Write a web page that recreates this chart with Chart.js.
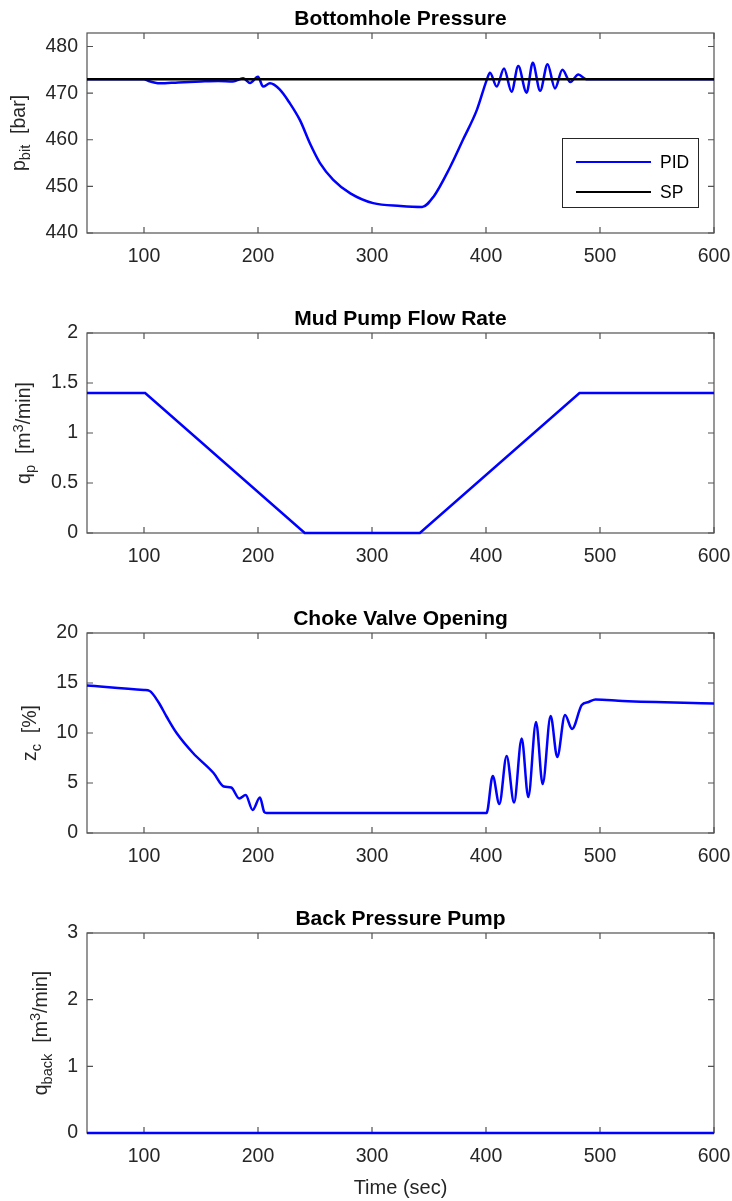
<!DOCTYPE html>
<html>
<head>
<meta charset="utf-8">
<script src="https://cdn.jsdelivr.net/npm/chart.js@4.4.1/dist/chart.umd.min.js"></script>
<style>
  html, body { margin: 0; padding: 0; background: #fff; }
  #wrap { position: relative; width: 732px; height: 1201px; }
  canvas { position: absolute; left: 0; }
</style>
</head>
<body>
<div id="wrap">
  <canvas id="c1" width="732" height="300" style="top:0px"></canvas>
  <canvas id="c2" width="732" height="300" style="top:300px"></canvas>
  <canvas id="c3" width="732" height="300" style="top:600px"></canvas>
  <canvas id="c4" width="732" height="301" style="top:900px"></canvas>
</div>
<script>
// ---- data ----
const xTicks = [100, 200, 300, 400, 500, 600];

// bottomhole pressure (PID) and set point
const tP = [50, 100, 104, 114, 130, 150, 165, 178, 187, 193, 200, 204.5, 210.5, 219, 228, 236.8, 245.6, 254.4,
  266, 281, 301, 325, 344, 354, 368, 380, 392, 400.6, 403.5, 409.4, 415.8, 422.4, 428.3, 435.6, 441, 447.5,
  454, 460.5, 467, 474, 481, 488, 495, 600];
const pBit = [473, 473, 472.6, 472.1, 472.3, 472.5, 472.6, 472.5, 473.2, 472.2, 473.5, 471.4, 472.1, 470.8, 467.8, 464.2, 459.2, 455.0,
  451.4, 448.5, 446.4, 445.8, 445.6, 447.8, 453.9, 460.1, 466.4, 472.8, 474.4, 471.4, 475.3, 470.3, 475.8, 470.1, 476.5, 470.5,
  476.2, 471.0, 475.0, 472.4, 474.0, 473.0, 473.0, 473.0];
const tSP = [50, 600];
const pSP = [473, 473];
const pTicks = [440, 450, 460, 470, 480];

// mud pump flow rate
const tQ = [50, 101, 241, 342, 482, 600];
const qP = [1.4, 1.4, 0, 0, 1.4, 1.4];
const qTicks = [0, 0.5, 1, 1.5, 2];

// choke valve opening
const tZ = [50, 100, 105, 112.6, 120, 128.6, 143, 161, 170, 176.5, 183.6, 189.2, 195.3, 201.7, 205.5, 207.5,
  400.5, 405.9, 411.7, 418.1, 424.6, 431.3, 437.1, 443.9, 449.7, 456.7, 462.5, 469.3, 475.5, 484, 490, 496, 520, 600];
const zC = [14.75, 14.3, 14.2, 13.1, 11.6, 10.0, 8.0, 6.0, 4.65, 4.55, 3.45, 3.8, 2.3, 3.55, 2.1, 2.0,
  2.0, 5.7, 2.9, 7.7, 3.05, 9.45, 3.6, 11.1, 4.9, 11.7, 7.6, 11.8, 10.4, 12.8, 13.1, 13.35, 13.2, 12.95];
const zTicks = [0, 5, 10, 15, 20];

// back pressure pump
const tB = [50, 600];
const qBack = [0, 0];
const bTicks = [0, 1, 2, 3];

// ---- styling ----
const FONT = '"Liberation Sans", Arial, Helvetica, sans-serif';
const TXT = '#262626';
const AXIS = '#525252';
const TICK_SIZE = 19.5;
const TL = 6;
const BLUE = '#0000ff';
const PLOT_RIGHT = 714;

function pts(xs, ys) {
  return xs.map((x, i) => ({ x: x, y: ys[i] }));
}

function makePlugin(cfg) {
  return {
    id: 'matlabLook',
    beforeDatasetsDraw(chart) {
      const ctx = chart.ctx, a = chart.chartArea;
      const xs = chart.scales.x, ys = chart.scales.y;
      ctx.save();
      ctx.strokeStyle = AXIS;
      ctx.lineWidth = 1.2;
      ctx.strokeRect(a.left, a.top, a.right - a.left, a.bottom - a.top);
      ctx.beginPath();
      xs.ticks.forEach(t => {
        const px = xs.getPixelForValue(t.value);
        ctx.moveTo(px, a.bottom); ctx.lineTo(px, a.bottom - TL);
        ctx.moveTo(px, a.top); ctx.lineTo(px, a.top + TL);
      });
      ys.ticks.forEach(t => {
        const py = ys.getPixelForValue(t.value);
        ctx.moveTo(a.left, py); ctx.lineTo(a.left + TL, py);
        ctx.moveTo(a.right, py); ctx.lineTo(a.right - TL, py);
      });
      ctx.stroke();
      ctx.restore();
    },
    afterDatasetsDraw(chart) {
      if (!cfg.legend) return;
      const ctx = chart.ctx;
      const bx = 562, by = 138, bw = 136, bh = 69;
      ctx.save();
      ctx.fillStyle = '#fff';
      ctx.fillRect(bx, by, bw, bh);
      ctx.strokeStyle = TXT;
      ctx.lineWidth = 1;
      ctx.strokeRect(bx + 0.5, by + 0.5, bw, bh);
      ctx.font = '17.5px ' + FONT;
      ctx.textBaseline = 'middle';
      ctx.textAlign = 'left';
      chart.data.datasets.forEach((ds, i) => {
        const y = by + 24 + i * 30;
        ctx.strokeStyle = ds.borderColor;
        ctx.lineWidth = 2;
        ctx.beginPath();
        ctx.moveTo(bx + 14, y); ctx.lineTo(bx + 89, y);
        ctx.stroke();
        ctx.fillStyle = '#000';
        ctx.fillText(ds.label, bx + 98, y + 1);
      });
      ctx.restore();
    },
    afterDraw(chart) {
      const ctx = chart.ctx, a = chart.chartArea;
      const ys = chart.scales.y;
      ctx.save();
      // title
      ctx.fillStyle = '#000';
      ctx.font = 'bold 21px ' + FONT;
      ctx.textAlign = 'center';
      ctx.textBaseline = 'alphabetic';
      ctx.fillText(cfg.title, (a.left + a.right) / 2, a.top - 8);

      // y label with sub/superscripts
      ctx.font = TICK_SIZE + 'px ' + FONT;
      let maxW = 0;
      ys.ticks.forEach(t => { maxW = Math.max(maxW, ctx.measureText(String(t.label)).width); });
      const baseX = a.left - 9 - maxW - 20.5;
      const small = TICK_SIZE * 0.75;
      let total = 0;
      cfg.ylabel.forEach(p => {
        ctx.font = (p[1] === 'n' ? TICK_SIZE : small) + 'px ' + FONT;
        total += ctx.measureText(p[0]).width;
      });
      ctx.translate(baseX, (a.top + a.bottom) / 2);
      ctx.rotate(-Math.PI / 2);
      ctx.fillStyle = TXT;
      ctx.textAlign = 'left';
      let cx = -total / 2;
      cfg.ylabel.forEach(p => {
        ctx.font = (p[1] === 'n' ? TICK_SIZE : small) + 'px ' + FONT;
        const dy = p[1] === 'sub' ? 5 : (p[1] === 'sup' ? -7 : 0);
        ctx.fillText(p[0], cx, dy);
        cx += ctx.measureText(p[0]).width;
      });
      ctx.restore();

      if (cfg.xlabel) {
        ctx.save();
        ctx.fillStyle = TXT;
        ctx.font = '20px ' + FONT;
        ctx.textAlign = 'center';
        ctx.textBaseline = 'middle';
        ctx.fillText(cfg.xlabel, (a.left + a.right) / 2, a.bottom + 55);
        ctx.restore();
      }
    }
  };
}

function makeChart(id, datasets, yMin, yMax, yTickVals, cfg) {
  const canvas = document.getElementById(id);
  const H = canvas.height;
  return new Chart(canvas, {
    type: 'line',
    data: { datasets: datasets },
    options: {
      responsive: false,
      animation: false,
      devicePixelRatio: 1,
      layout: { padding: { top: 33, right: 0, left: 0, bottom: 0 } },
      elements: { point: { radius: 0 } },
      plugins: { legend: { display: false }, tooltip: { enabled: false }, title: { display: false } },
      scales: {
        x: {
          type: 'linear', min: 50, max: 600,
          afterBuildTicks: s => { s.ticks = xTicks.map(v => ({ value: v })); },
          afterFit: s => { s.height = H - 233; s.paddingRight = 732 - PLOT_RIGHT; },
          grid: { display: false, drawTicks: false },
          border: { display: false },
          ticks: { font: { family: FONT, size: TICK_SIZE }, color: TXT, padding: 12, maxRotation: 0, autoSkip: false,
            callback: v => String(v) }
        },
        y: {
          type: 'linear', min: yMin, max: yMax,
          afterBuildTicks: s => { s.ticks = yTickVals.map(v => ({ value: v })); },
          afterFit: s => { s.width = 87; },
          grid: { display: false, drawTicks: false },
          border: { display: false },
          ticks: { font: { family: FONT, size: TICK_SIZE }, color: TXT, padding: 9, autoSkip: false,
            callback: v => String(v) }
        }
      }
    },
    plugins: [makePlugin(cfg)]
  });
}

makeChart('c1', [
  { label: 'PID', data: pts(tP, pBit), borderColor: BLUE, borderWidth: 2.5, cubicInterpolationMode: 'monotone', clip: false, order: 1 },
  { label: 'SP', data: pts(tSP, pSP), borderColor: '#000', borderWidth: 2.5, clip: false, order: 0 }
], 440, 482.9, pTicks, {
  title: 'Bottomhole Pressure', legend: true,
  ylabel: [['p', 'n'], ['bit', 'sub'], ['  [bar]', 'n']]
});

makeChart('c2', [
  { label: 'PID', data: pts(tQ, qP), borderColor: BLUE, borderWidth: 2.5, tension: 0, clip: false }
], 0, 2, qTicks, {
  title: 'Mud Pump Flow Rate',
  ylabel: [['q', 'n'], ['p', 'sub'], ['  [m', 'n'], ['3', 'sup'], ['/min]', 'n']]
});

makeChart('c3', [
  { label: 'PID', data: pts(tZ, zC), borderColor: BLUE, borderWidth: 2.5, cubicInterpolationMode: 'monotone', clip: false }
], 0, 20, zTicks, {
  title: 'Choke Valve Opening',
  ylabel: [['z', 'n'], ['c', 'sub'], ['  [%]', 'n']]
});

makeChart('c4', [
  { label: 'PID', data: pts(tB, qBack), borderColor: BLUE, borderWidth: 2.5, tension: 0, clip: false }
], 0, 3, bTicks, {
  title: 'Back Pressure Pump', xlabel: 'Time (sec)',
  ylabel: [['q', 'n'], ['back', 'sub'], ['  [m', 'n'], ['3', 'sup'], ['/min]', 'n']]
});
</script>
</body>
</html>
